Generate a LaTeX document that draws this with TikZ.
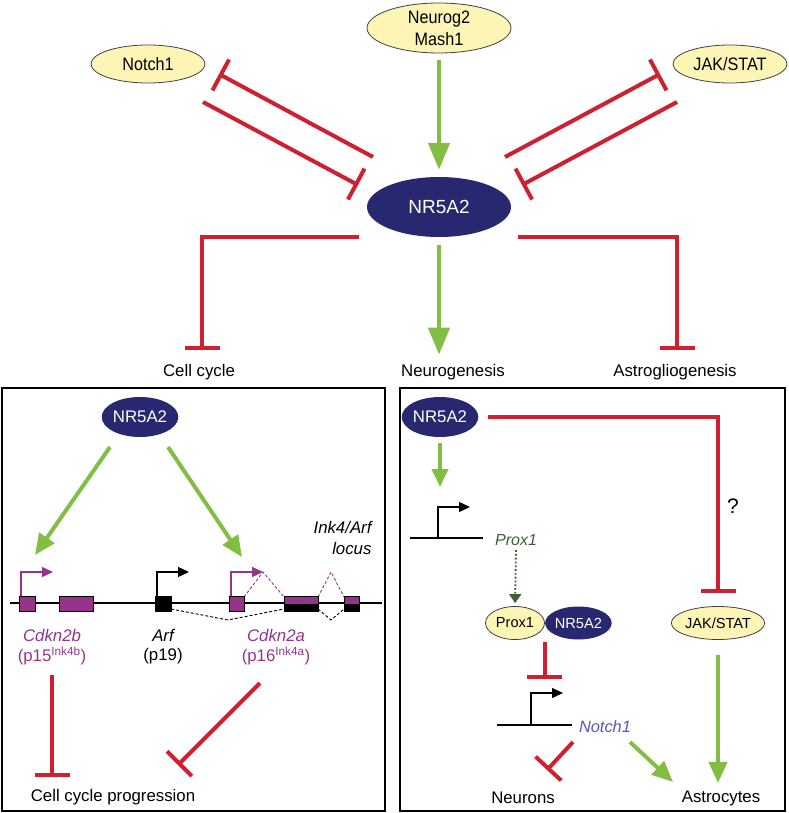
\documentclass[tikz,border=0pt]{standalone}
\usepackage{fontspec}
\setmainfont{Liberation Sans}
\newfontfamily\condsf[FakeStretch=0.9]{Liberation Sans}
\usetikzlibrary{arrows.meta,shapes.geometric,positioning}
\definecolor{inhred}{RGB}{206,32,48}
\definecolor{actgreen}{RGB}{130,190,68}
\definecolor{navy}{RGB}{40,40,112}
\definecolor{paleyel}{RGB}{252,245,182}
\definecolor{genepur}{RGB}{150,52,140}
\definecolor{proxgreen}{RGB}{62,96,50}
\definecolor{notchblue}{RGB}{88,88,188}

\begin{document}
\begin{tikzpicture}[x=1pt,y=-1pt,
    every node/.style={font=\fontsize{16.8}{20}\selectfont},
    yel/.style={ellipse, draw=black!75, line width=0.8pt, fill=paleyel, inner sep=0pt},
    blu/.style={ellipse, fill=navy, text=white, inner sep=0pt},
    inh/.style={draw=inhred, line width=4pt, -{Bar[width=35pt]}},
    act/.style={draw=actgreen, line width=4.5pt, -{Triangle[width=21pt,length=27pt]}},
    actsm/.style={draw=actgreen, line width=4pt, -{Triangle[width=18pt,length=21pt]}},
    bent/.style={line width=1.3pt, -{Triangle[width=10pt,length=11pt]}},
    splice/.style={line width=0.9pt, dash pattern=on 3pt off 2pt},
    frame/.style={draw=black, line width=1.4pt}]
  \useasboundingbox (0,0) rectangle (788,813);

  % top level
  \node[yel, minimum width=144pt, minimum height=50pt, align=center,
        font=\condsf\fontsize{18}{22}\selectfont] (ng) at (439,28) {Neurog2\\Mash1};
  \node[yel, minimum width=114pt, minimum height=38pt,
        font=\condsf\fontsize{18}{22}\selectfont] (n1) at (148,64) {Notch1};
  \node[yel, minimum width=114pt, minimum height=38pt,
        font=\condsf\fontsize{18}{22}\selectfont] (js) at (730,64) {JAK/STAT};
  \node[blu, minimum width=144pt, minimum height=60pt,
        font=\fontsize{19}{22}\selectfont] (nr) at (439,207) {NR5A2};

  \node (cc) at (199,372) {Cell cycle};
  \node (ngs) at (453,372) {Neurogenesis};
  \node (ags) at (675,372) {Astrogliogenesis};

  \coordinate (a1) at (373,157); \coordinate (a2) at (219,74);
  \coordinate (b1) at (203,102); \coordinate (b2) at (358,185);
  \coordinate (c1) at (505,157); \coordinate (c2) at (660,74);
  \coordinate (d1) at (677,102); \coordinate (d2) at (522,185);
  \coordinate (ccT) at (202,350);
  \coordinate (agT) at (677,350);

  \draw[act, shorten <=7pt, shorten >=7pt] (ng) -- (nr);
  \draw[inh] (a1) -- (a2);
  \draw[inh] (b1) -- (b2);
  \draw[inh] (c1) -- (c2);
  \draw[inh] (d1) -- (d2);
  \draw[inh] ([xshift=-80pt]nr.south) -| (ccT);
  \draw[inh] ([xshift=79pt]nr.south) -| (agT);
  \draw[act, shorten <=8pt, shorten >=6pt] (nr.south) -- (nr.south |- ngs.north);

  % left panel
  \draw[frame] (2,388) rectangle (385,811);
  \node[blu, minimum width=74pt, minimum height=40pt] (lnr) at (140,417) {NR5A2};
  \coordinate (t2b) at (35,555);
  \coordinate (t2a) at (242,557);
  \draw[actsm] ([xshift=-30pt,yshift=-30pt]lnr.center) -- (t2b);
  \draw[actsm] ([xshift=28pt,yshift=-30pt]lnr.center) -- (t2a);

  \node[anchor=east, align=right, font=\itshape\fontsize{16.8}{21}\selectfont]
        (loc) at (375,538) {Ink4/Arf\\locus};

  \draw[line width=1.3pt] (10,603) -- (382,603);
  \draw[splice, black] (171,609) -- (228,620) -- (284,609);
  \draw[splice, black] (318,609) -- (331,620) -- (344,609);
  \draw[splice, genepur] (244,597) -- (263,572) -- (284,597);
  \draw[splice, genepur] (318,597) -- (331,572) -- (344,597);
  \draw[line width=1pt, fill=genepur] (19,596) rectangle (35,611);
  \draw[line width=1pt, fill=genepur] (59,596) rectangle (93,611);
  \draw[line width=1pt, fill=black] (155,596) rectangle (171,611);
  \draw[line width=1pt, fill=genepur] (229,596) rectangle (244,611);
  \fill[genepur] (284,596) rectangle (318,603.5);
  \fill[black] (284,603.5) rectangle (318,611);
  \draw[line width=1pt] (284,596) rectangle (318,611);
  \fill[genepur] (344,596) rectangle (359,603.5);
  \fill[black] (344,603.5) rectangle (359,611);
  \draw[line width=1pt] (344,596) rectangle (359,611);
  \draw[bent, genepur] (21,596) -- (21,572) -- (53,572);
  \draw[bent, black] (157,596) -- (157,572) -- (189,572);
  \draw[bent, genepur] (231,596) -- (231,572) -- (263,572);

  \node[genepur, font=\itshape\fontsize{16.8}{20}\selectfont] (g2b) at (52,635) {Cdkn2b};
  \node[genepur] (p15) at (52,656) {(p15\textsuperscript{Ink4b})};
  \node[font=\itshape\fontsize{16.8}{20}\selectfont] (arf) at (163,635) {Arf};
  \node (p19) at (163,656) {(p19)};
  \node[genepur, font=\itshape\fontsize{16.8}{20}\selectfont] (g2a) at (276,635) {Cdkn2a};
  \node[genepur] (p16) at (276,656) {(p16\textsuperscript{Ink4a})};

  \node (ccp) at (113,797) {Cell cycle progression};
  \coordinate (bT) at (52,777);
  \coordinate (aS) at (260,683);
  \coordinate (aT) at (178,765);
  \draw[inh, shorten <=6pt] (p15.south) -- (bT);
  \draw[inh] (aS) -- (aT);

  % right panel
  \draw[frame] (400,388) rectangle (785,811);
  \node[blu, minimum width=74pt, minimum height=40pt] (rnr) at (440,417) {NR5A2};
  \node[yel, minimum width=90pt, minimum height=33pt,
        font=\fontsize{14.6}{17}\selectfont] (js2) at (718,623) {JAK/STAT};
  \draw[inh] ([xshift=9pt]rnr.east) -| ([yshift=13pt]js2.north);
  \node[font=\fontsize{21}{24}\selectfont] (qm) at (733,506) {?};

  \draw[line width=1.3pt] (410,538) -- (483,538);
  \draw[bent, black] (438,538) -- (438,507) -- (470,507);
  \node[proxgreen, font=\itshape\fontsize{16}{20}\selectfont] (pxg) at (516,540) {Prox1};
  \draw[actgreen, line width=4pt, -{Triangle[width=16pt,length=18pt]},
        shorten <=6pt] (rnr.south) -- (440,487);

  \node[yel, minimum width=59pt, minimum height=33pt,
        font=\fontsize{14.6}{17}\selectfont] (px) at (515,623) {Prox1};
  \node[blu, minimum width=61pt, minimum height=33pt, right=0pt of px,
        font=\fontsize{14.6}{17}\selectfont] (cnr) {NR5A2};
  \draw[proxgreen, line width=1.8pt, dotted, -{Triangle[width=12pt,length=9pt]},
        shorten <=1pt, shorten >=3pt] (pxg.south) -- (px.north);

  \draw[line width=1.3pt] (497,725) -- (572,725);
  \draw[bent, black] (531,725) -- (531,693) -- (563,693);
  \node[notchblue, font=\itshape\fontsize{16.4}{20}\selectfont] (nt) at (605,727) {Notch1};
  \draw[inh] ([yshift=-19pt]px.east) -- ++(0,37);

  \node (neu) at (523,798) {Neurons};
  \node (ast) at (721,798) {Astrocytes};
  \coordinate (nS) at (573,742); \coordinate (nT) at (547,770);
  \coordinate (aS2) at (630,742); \coordinate (aT2) at (673,782);
  \draw[inh] (nS) -- (nT);
  \draw[actsm] (aS2) -- (aT2);
  \draw[actsm, shorten <=15pt, shorten >=4pt] (js2.south) -- (js2.south |- ast.north);
\end{tikzpicture}
\end{document}
